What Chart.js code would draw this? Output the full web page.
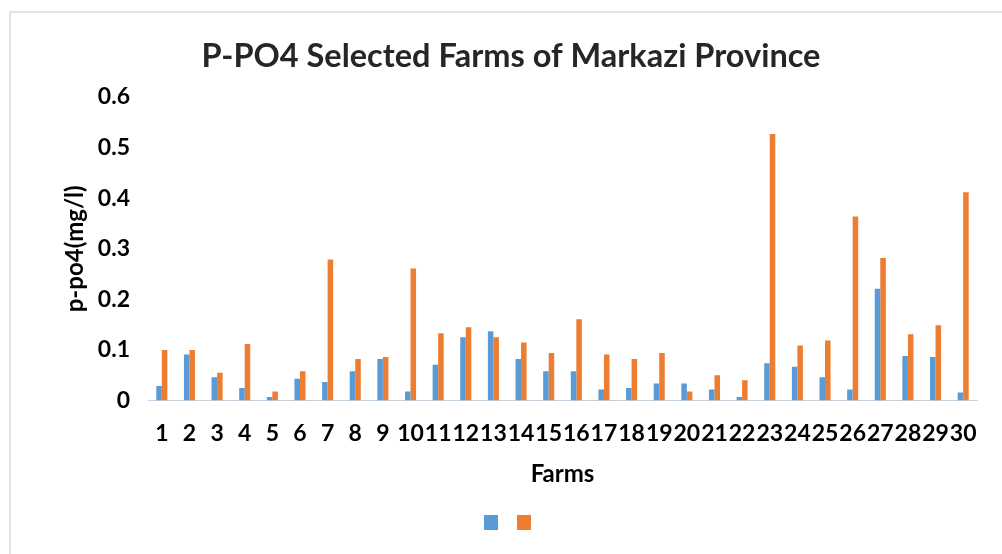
<!DOCTYPE html>
<html>
<head>
<meta charset="utf-8">
<script src="https://cdn.jsdelivr.net/npm/chart.js@4"></script>
<style>
  html, body { margin: 0; padding: 0; background: #fff; }
  #wrap { position: relative; width: 1002px; height: 554px; }
  #frame { position: absolute; left: 9px; top: 11px; right: -2px; bottom: -2px; border: 2px solid #e2e2e2; pointer-events: none; }
  canvas { position: absolute; left: 0; top: 0; }
</style>
</head>
<body>
<div id="wrap">
  <canvas id="c" width="1002" height="554"></canvas>
  <div id="frame"></div>
</div>
<script>
const farms = ['1','2','3','4','5','6','7','8','9','10','11','12','13','14','15','16','17','18','19','20','21','22','23','24','25','26','27','28','29','30'];
const seriesBlue = [0.029,0.091,0.046,0.025,0.007,0.043,0.037,0.058,0.082,0.018,0.071,0.125,0.137,0.082,0.058,0.058,0.022,0.025,0.034,0.034,0.022,0.007,0.074,0.067,0.046,0.022,0.221,0.088,0.086,0.016];
const seriesOrange = [0.100,0.100,0.055,0.112,0.018,0.058,0.279,0.082,0.086,0.261,0.133,0.145,0.125,0.115,0.094,0.161,0.091,0.082,0.094,0.018,0.050,0.040,0.527,0.109,0.119,0.364,0.282,0.131,0.149,0.412];
const yTicks = [0,0.1,0.2,0.3,0.4,0.5,0.6];

const FONT = 'Lato';
new Chart(document.getElementById('c'), {
  type: 'bar',
  data: {
    labels: farms,
    datasets: [
      { label: '', data: seriesBlue, backgroundColor: '#5b9bd5' },
      { label: '', data: seriesOrange, backgroundColor: '#ed7d31' }
    ]
  },
  options: {
    responsive: false,
    animation: false,
    devicePixelRatio: 1,
    categoryPercentage: 0.4,
    barPercentage: 1.0,
    layout: { padding: { left: 45, right: 25, top: 0, bottom: 14 } },
    plugins: {
      title: {
        display: true,
        text: 'P-PO4 Selected Farms of Markazi Province',
        color: '#262626',
        font: { family: FONT, size: 32.5, weight: 'bold' },
        padding: { top: 37, bottom: 21 }
      },
      legend: {
        position: 'bottom',
        labels: {
          boxWidth: 14,
          boxHeight: 15,
          padding: 12,
          font: { family: FONT, size: 14 },
          generateLabels: (chart) => chart.data.datasets.map((d, i) => ({
            text: '', fillStyle: d.backgroundColor, strokeStyle: d.backgroundColor, lineWidth: 0, datasetIndex: i, hidden: false
          }))
        }
      },
      tooltip: { enabled: false }
    },
    scales: {
      x: {
        grid: { display: false },
        border: { display: true, color: '#c9d3de', width: 1 },
        ticks: { color: '#000', autoSkip: false, maxRotation: 0, padding: 11, font: { family: FONT, size: 23, weight: 'bold' } },
        title: { display: true, text: 'Farms', color: '#000', font: { family: FONT, size: 24, weight: 'bold' }, padding: { top: 2, bottom: 14 } }
      },
      y: {
        min: 0, max: 0.6,
        afterBuildTicks: (s) => { s.ticks = yTicks.map(v => ({ value: v })); },
        afterFit: (s) => { s.width = 103; },
        grid: { display: false },
        border: { display: false },
        ticks: { color: '#000', padding: 10, font: { family: FONT, size: 23, weight: 'bold' }, callback: (v) => String(Math.round(v * 10) / 10) },
        title: { display: true, text: 'p-po4(mg/l)', color: '#000', font: { family: FONT, size: 24, weight: 'bold' }, padding: { top: 16, bottom: 0 } }
      }
    }
  }
});
</script>
</body>
</html>
